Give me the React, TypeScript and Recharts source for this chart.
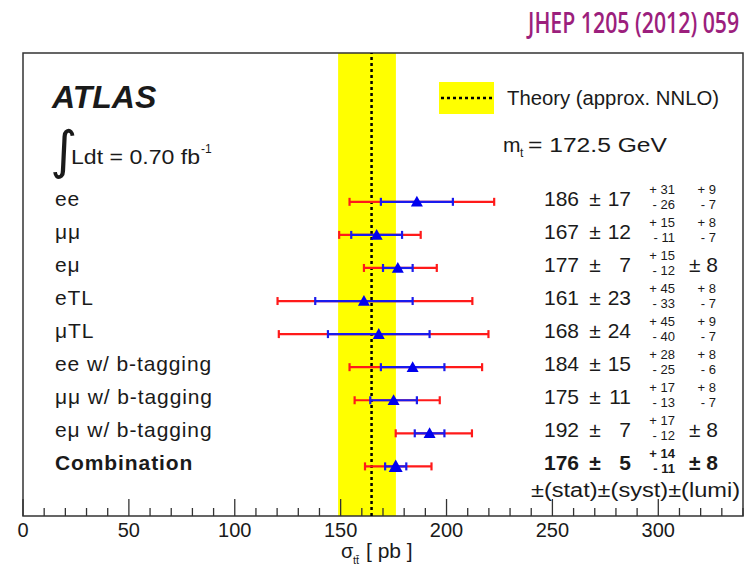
import React from 'react';
import {
  ScatterChart,
  Scatter,
  XAxis,
  YAxis,
  ErrorBar,
  ReferenceArea,
  ReferenceLine,
} from 'recharts';

const channels = [
  'ee',
  'μμ',
  'eμ',
  'eTL',
  'μTL',
  'ee w/ b-tagging',
  'μμ w/ b-tagging',
  'eμ w/ b-tagging',
  'Combination',
];
const xsec = [186, 167, 177, 161, 168, 184, 175, 192, 176];
const statErr = [17, 12, 7, 23, 24, 15, 11, 7, 5];
const systUp = [31, 15, 15, 45, 45, 28, 17, 17, 14];
const systDown = [26, 11, 12, 33, 40, 25, 13, 12, 11];
const lumiUp = [9, 8, 8, 8, 9, 8, 8, 8, 8];
const lumiDown = [7, 7, 8, 7, 7, 6, 7, 8, 8];
// total uncertainty
const totalDown = [31.8, 17.7, 16.0, 40.8, 47.2, 29.8, 18.4, 16.0, 14.5];
const totalUp = [36.5, 20.8, 18.4, 51.2, 51.8, 32.8, 21.8, 20.0, 16.9];

const theoryCentral = 164.6;
const theoryLow = 148.8;
const theoryHigh = 176.1;

const xTicks = [0, 10, 20, 30, 40, 50, 60, 70, 80, 90, 100, 110, 120, 130, 140, 150, 160, 170, 180, 190, 200, 210, 220, 230, 240, 250, 260, 270, 280, 290, 300, 310, 320, 330, 340];
const rowTicks = [0, 1, 2, 3, 4, 5, 6, 7, 8];

const FONT = '"Liberation Sans", Arial, Helvetica, sans-serif';
const INK = '#1a1a1a';

const data = channels.map((name, i) => ({
  name,
  x: xsec[i],
  y: i,
  stat: [statErr[i], statErr[i]],
  total: [totalDown[i], totalUp[i]],
}));

const BottomTick = (props: any) => {
  const { x, y, payload } = props;
  const major = payload.value % 50 === 0;
  return (
    <g>
      <line x1={x} x2={x} y1={y} y2={y - (major ? 17 : 8)} stroke="#333" strokeWidth={1.3} />
      {major && payload.value <= 300 && (
        <text x={x} y={y + 21} textAnchor="middle" fontSize={20} fontFamily={FONT} fill={INK}>
          {payload.value}
        </text>
      )}
    </g>
  );
};

const TopTick = (props: any) => {
  const { x, y, payload } = props;
  const major = payload.value % 50 === 0;
  return <line x1={x} x2={x} y1={y} y2={y + (major ? 17 : 8)} stroke="#333" strokeWidth={1.3} />;
};

const RowTick = (props: any) => {
  const { x, y, index } = props;
  const i = index;
  const bold = i === channels.length - 1 ? 'bold' : 'normal';
  const base = y + 4;
  const symLumi = lumiUp[i] === lumiDown[i];
  return (
    <g fontFamily={FONT} fill={INK} fontWeight={bold}>
      <text x={x + 32} y={base} fontSize={21} letterSpacing={0.9}>
        {channels[i]}
      </text>
      <text x={x + 556} y={base} fontSize={21} textAnchor="end">
        {xsec[i]}
      </text>
      <text x={x + 572} y={base} fontSize={21} textAnchor="middle">
        ±
      </text>
      <text x={x + 608} y={base} fontSize={21} textAnchor="end">
        {statErr[i]}
      </text>
      <text x={x + 652} y={y - 8} fontSize={13} textAnchor="end">
        {'+ ' + systUp[i]}
      </text>
      <text x={x + 652} y={y + 7} fontSize={13} textAnchor="end">
        {'- ' + systDown[i]}
      </text>
      {symLumi ? (
        <text x={x + 666} y={base} fontSize={21}>
          {'± ' + lumiUp[i]}
        </text>
      ) : (
        <>
          <text x={x + 693} y={y - 8} fontSize={13} textAnchor="end">
            {'+ ' + lumiUp[i]}
          </text>
          <text x={x + 693} y={y + 7} fontSize={13} textAnchor="end">
            {'- ' + lumiDown[i]}
          </text>
        </>
      )}
    </g>
  );
};

const Triangle = (props: any) => {
  const { cx, cy, payload } = props;
  const s = payload && payload.name === 'Combination' ? 7 : 6;
  return (
    <polygon
      points={`${cx},${cy - s} ${cx - s},${cy + s * 0.8} ${cx + s},${cy + s * 0.8}`}
      fill="#0000ee"
    />
  );
};

const Nothing = () => <g />;

const App = () => {
  return (
    <div style={{ position: 'absolute', left: 0, top: 0, width: 753, height: 568, background: '#fff' }}>
      <ScatterChart width={753} height={568} margin={{ top: 33, right: 10, bottom: 22, left: 23 }}>
        <XAxis
          xAxisId={0}
          type="number"
          dataKey="x"
          domain={[0, 340]}
          ticks={xTicks}
          interval={0}
          height={30}
          tickSize={0}
          tickMargin={0}
          tickLine={false}
          axisLine={false}
          tick={<BottomTick />}
        />
        <XAxis
          xAxisId="top"
          orientation="top"
          type="number"
          domain={[0, 340]}
          ticks={xTicks}
          interval={0}
          height={20}
          tickSize={0}
          tickMargin={0}
          tickLine={false}
          axisLine={false}
          tick={<TopTick />}
        />
        <YAxis
          type="number"
          dataKey="y"
          domain={[-4.5, 9.5]}
          reversed
          ticks={rowTicks}
          interval={0}
          mirror
          tickSize={0}
          tickMargin={0}
          tickLine={false}
          axisLine={false}
          tick={<RowTick />}
        />
        <ReferenceArea x1={theoryLow} x2={theoryHigh} fill="#ffff00" fillOpacity={1} stroke="none" />
        <ReferenceLine x={theoryCentral} stroke="#000" strokeWidth={2.5} strokeDasharray="3 3" />
        <ReferenceArea x1={0} x2={340} y1={-4.5} y2={9.5} fill="none" stroke="#333" strokeWidth={1.5} />
        <Scatter data={data} shape={<Nothing />} isAnimationActive={false}>
          <ErrorBar dataKey="total" direction="x" width={4} stroke="#ff1a1a" strokeWidth={2.2} />
        </Scatter>
        <Scatter data={data} shape={<Nothing />} isAnimationActive={false}>
          <ErrorBar dataKey="stat" direction="x" width={4} stroke="#1a1aee" strokeWidth={2.2} />
        </Scatter>
        <Scatter data={data} shape={<Triangle />} isAnimationActive={false} />
      </ScatterChart>

      <svg
        width={753}
        height={568}
        style={{ position: 'absolute', left: 0, top: 0, pointerEvents: 'none' }}
        fontFamily={FONT}
        fill={INK}
      >
        <text
          transform="translate(528,33) scale(0.76,1)"
          fontSize={28}
          fontWeight={600}
          fontFamily='"Open Sans", sans-serif'
          fill="#9c1f7d"
        >
          JHEP 1205 (2012) 059
        </text>
        <text x={52} y={108} fontSize={32} fontWeight="bold" fontStyle="italic">
          ATLAS
        </text>
        <text x={50} y={168} fontSize={52} fontFamily='"DejaVu Sans", sans-serif'>
          ∫
        </text>
        <text x={71} y={164} fontSize={21} textLength={129} lengthAdjust="spacingAndGlyphs">
          Ldt = 0.70 fb
        </text>
        <text x={201} y={153} fontSize={12}>
          -1
        </text>
        <rect x={439} y={82} width={55} height={32} fill="#ffff00" />
        <line x1={441} x2={492} y1={98} y2={98} stroke="#000" strokeWidth={2.5} strokeDasharray="3 3" />
        <text x={507} y={105} fontSize={20} textLength={212} lengthAdjust="spacingAndGlyphs">
          Theory (approx. NNLO)
        </text>
        <text x={503} y={152} fontSize={21}>
          m
        </text>
        <text x={520} y={157} fontSize={12}>
          t
        </text>
        <text x={528} y={152} fontSize={20} textLength={139} lengthAdjust="spacingAndGlyphs">
          = 172.5 GeV
        </text>
        <text x={531} y={497} fontSize={20} textLength={209} lengthAdjust="spacingAndGlyphs">
          ±(stat)±(syst)±(lumi)
        </text>
        <text x={341} y={558} fontSize={20}>
          σ
        </text>
        <text x={353} y={564} fontSize={11}>
          tt̄
        </text>
        <text x={366} y={558} fontSize={21}>
          [ pb ]
        </text>
      </svg>
    </div>
  );
};

export default App;
